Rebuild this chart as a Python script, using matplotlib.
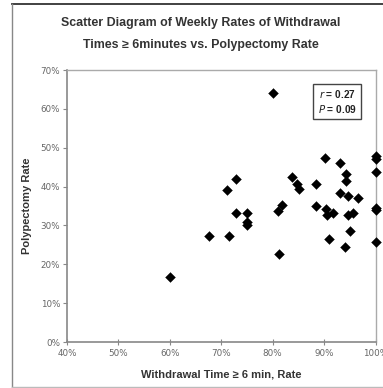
import matplotlib
matplotlib.use("Agg")
import matplotlib.pyplot as plt
from matplotlib.lines import Line2D
from matplotlib.ticker import FuncFormatter

# Data (withdrawal time >= 6 min rate %, polypectomy rate %)
withdrawal = [80.0, 60.0,
              90.2, 93.1, 100.0, 100.0, 100.0, 94.3, 94.3, 88.4, 85.1,
              93.1, 94.7, 96.5, 88.4, 90.4, 90.6, 91.8, 94.7, 95.6,
              100.0, 100.0, 95.1, 91.0, 94.1, 100.0,
              72.9, 71.1, 83.7, 84.7, 81.8, 81.1, 72.9, 75.1, 75.1, 75.1,
              67.6, 71.6, 81.2]
polypectomy = [64.0, 16.6,
               47.3, 46.1, 47.8, 47.0, 43.8, 43.2, 41.5, 40.7, 39.4,
               38.4, 37.7, 37.1, 34.9, 34.1, 32.6, 33.3, 32.6, 33.3,
               34.6, 34.0, 28.5, 26.6, 24.4, 25.7,
               42.0, 39.2, 42.4, 40.7, 35.3, 33.8, 33.2, 33.2, 31.0, 30.2,
               27.2, 27.4, 22.6]
x_ticks = [40, 50, 60, 70, 80, 90, 100]
y_ticks = [0, 10, 20, 30, 40, 50, 60, 70]
title_lines = ["Scatter Diagram of Weekly Rates of Withdrawal",
               "Times \u2265 6minutes vs. Polypectomy Rate"]
x_label = "Withdrawal Time \u2265 6 min, Rate"
y_label = "Polypectomy Rate"

W, H = 383, 388
fig = plt.figure(figsize=(W / 100, H / 100), dpi=100)
fig.patch.set_facecolor("white")

def fx(px):
    return px / W

def fy(py):
    return 1 - py / H

# outer frame lines
fig.add_artist(Line2D([fx(12), 1.0], [fy(4), fy(4)], color="#333333", lw=1.3))
fig.add_artist(Line2D([fx(12), fx(12)], [fy(4), fy(387)], color="#888888", lw=1.0))
fig.add_artist(Line2D([fx(12), 1.0], [fy(387), fy(387)], color="#bbbbbb", lw=1.0))

left, right, top, bottom = 67, 375.5, 70, 342
ax = fig.add_axes([fx(left), fy(bottom), (right - left) / W, (bottom - top) / H])
ax.set_xlim(40, 100)
ax.set_ylim(0, 70)

ax.scatter(withdrawal, polypectomy, marker="D", s=25, color="black",
           edgecolors="black", linewidths=0.3, zorder=5, clip_on=False)

for side in ["top", "right"]:
    ax.spines[side].set_color("#aaaaaa")
    ax.spines[side].set_linewidth(1.0)
for side in ["left", "bottom"]:
    ax.spines[side].set_color("#888888")
    ax.spines[side].set_linewidth(1.2)

ax.set_xticks(x_ticks)
ax.set_yticks(y_ticks)
pct = FuncFormatter(lambda v, p: f"{v:.0f}%")
ax.xaxis.set_major_formatter(pct)
ax.yaxis.set_major_formatter(pct)
ax.tick_params(axis="x", direction="inout", length=4, width=0.8, color="#888888",
               labelsize=6.3, labelcolor="#666666", pad=3)
ax.tick_params(axis="y", direction="out", length=3, width=0.8, color="#888888",
               labelsize=6.3, labelcolor="#666666", pad=2)

ax.set_xlabel(x_label, fontsize=8.0, fontweight="bold", color="#333333",
              family="Liberation Sans", labelpad=8)
ax.set_ylabel(y_label, fontsize=8.0, fontweight="bold", color="#333333",
              family="Liberation Sans", labelpad=6)

fig.text(fx(201), fy(23), title_lines[0], ha="center", va="center",
         fontsize=8.9, fontweight="bold", color="#333333", family="Liberation Sans")
fig.text(fx(201), fy(45), title_lines[1], ha="center", va="center",
         fontsize=8.9, fontweight="bold", color="#333333", family="Liberation Sans")

ax.text(92.6, 61.9, "$\\bf{\\it{r}}$ = 0.27\n$\\bf{\\it{P}}$ = 0.09", ha="center", va="center",
        fontsize=7.3, fontweight="bold", color="#222222", family="Liberation Sans",
        linespacing=1.25,
        bbox=dict(boxstyle="square,pad=0.45", facecolor="white",
                  edgecolor="#444444", linewidth=1.0), zorder=6)

fig.savefig("out.png", dpi=100, facecolor="white")
